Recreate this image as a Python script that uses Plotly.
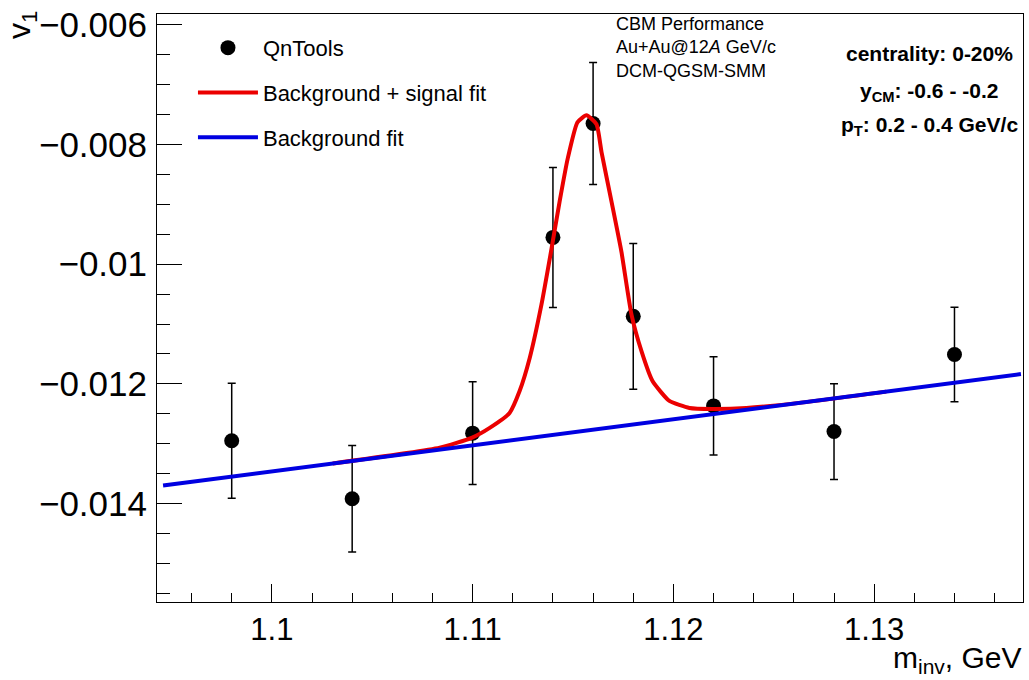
import plotly.graph_objects as go

# Lambda candidates: directed flow v1 versus invariant mass
mass = [1.098, 1.104, 1.110, 1.114, 1.116, 1.118, 1.122, 1.128, 1.134]
v1 = [-0.012952, -0.013922, -0.012824, -0.009552, -0.007647,
      -0.010872, -0.012369, -0.012797, -0.011509]
v1_err = [0.00096, 0.00089, 0.00086, 0.00117, 0.00102,
          0.00122, 0.00082, 0.00080, 0.00079]

# Background + signal fit curve (sampled)
fit_mass = [1.10303, 1.10836, 1.10995, 1.11085, 1.11184, 1.11234, 1.11284,
            1.11343, 1.11393, 1.11433, 1.11473, 1.11522, 1.11567, 1.11617,
            1.11642, 1.11692, 1.11741, 1.11791, 1.11841, 1.11896, 1.11980,
            1.12080, 1.12194, 1.12363, 1.12627, 1.13060]
fit_v1 = [-0.013330, -0.013068, -0.012902, -0.012735, -0.012486, -0.012120,
          -0.011571, -0.010672, -0.009740, -0.008958, -0.008243, -0.007627,
          -0.007511, -0.007661, -0.008126, -0.008958, -0.009790, -0.010839,
          -0.011454, -0.011953, -0.012286, -0.012403, -0.012419, -0.012403,
          -0.012318, -0.012130]

# Linear background fit
bg_mass = [1.09458, 1.13731]
bg_v1 = [-0.013700, -0.011837]

x_tickvals = [1.10, 1.11, 1.12, 1.13]
x_ticktext = ["1.1", "1.11", "1.12", "1.13"]
y_tickvals = [-0.006, -0.008, -0.010, -0.012, -0.014]
y_ticktext = ["\u22120.006", "\u22120.008", "\u22120.01", "\u22120.012", "\u22120.014"]

FONT = "Liberation Sans, Arial, Helvetica, sans-serif"
RED = "rgb(235,0,0)"
BLUE = "rgb(0,0,225)"

fig = go.Figure()

fig.add_trace(go.Scatter(
    x=mass, y=v1, mode="markers", name="QnTools",
    marker=dict(symbol="circle", size=15, color="black"),
    error_y=dict(type="data", array=v1_err, visible=True,
                 color="black", thickness=1.5, width=4),
    legend="legend",
))
fig.add_trace(go.Scatter(
    x=fit_mass, y=fit_v1, mode="lines", name="Background + signal fit",
    line=dict(color=RED, width=4, shape="spline", smoothing=0.5),
    legend="legend2",
))
fig.add_trace(go.Scatter(
    x=bg_mass, y=bg_v1, mode="lines", name="Background fit",
    line=dict(color=BLUE, width=4),
    legend="legend3",
))

W, H = 1029, 680
L, R, T, B = 157, 1024, 11, 602


def px(xp):
    return (xp - L) / (R - L)


def py(yp):
    return (B - yp) / (B - T)


legend_style = dict(font=dict(family=FONT, size=22, color="black"),
                    bgcolor="rgba(0,0,0,0)", borderwidth=0,
                    xanchor="left", yanchor="middle", itemwidth=60)

fig.update_layout(
    width=W, height=H,
    margin=dict(l=L, r=W - R, t=T, b=H - B),
    paper_bgcolor="white", plot_bgcolor="white",
    font=dict(family=FONT, color="black"),
    showlegend=True,
    legend=dict(x=px(193), y=py(45), **legend_style),
    legend2=dict(x=px(193), y=py(90), **legend_style),
    legend3=dict(x=px(193), y=py(135), **legend_style),
    xaxis=dict(
        range=[1.094279, 1.137413],
        tickmode="array", tickvals=x_tickvals, ticktext=x_ticktext,
        ticks="inside", ticklen=18, tickwidth=1, tickcolor="black",
        minor=dict(ticks="inside", ticklen=9, tickwidth=1, tickcolor="black",
                   tickmode="linear", tick0=1.1, dtick=0.002),
        showgrid=False, zeroline=False,
        showline=True, linecolor="black", linewidth=1, mirror=True,
        tickfont=dict(family=FONT, size=31, color="black"),
    ),
    yaxis=dict(
        range=[-0.015647, -0.005817],
        tickmode="array", tickvals=y_tickvals, ticktext=y_ticktext,
        ticks="inside", ticklen=25, tickwidth=1, tickcolor="black",
        minor=dict(ticks="inside", ticklen=13, tickwidth=1, tickcolor="black",
                   tickmode="linear", tick0=-0.006, dtick=0.0005),
        showgrid=False, zeroline=False,
        showline=True, linecolor="black", linewidth=1, mirror=True,
        tickfont=dict(family=FONT, size=35, color="black"),
        ticklabelstandoff=2,
    ),
)

annotations = [
    dict(text="v<sub>1</sub>", x=px(22), y=py(22), textangle=-90,
         font=dict(size=32), xanchor="center", yanchor="middle"),
    dict(text="m<sub>inv</sub>, GeV", x=px(1024), y=py(679),
         font=dict(size=30), xanchor="right", yanchor="bottom", borderpad=0),
    dict(text="CBM Performance<br>Au+Au@12<i>A</i> GeV/c<br>DCM-QGSM-SMM",
         x=px(615), y=py(9), font=dict(size=18), align="left",
         xanchor="left", yanchor="top"),
    dict(text="<b>centrality: 0-20%</b>", x=px(930), y=py(51),
         font=dict(size=21), xanchor="center", yanchor="middle"),
    dict(text="<b>y<sub>CM</sub>: -0.6 - -0.2</b>", x=px(930), y=py(89),
         font=dict(size=21), xanchor="center", yanchor="middle"),
    dict(text="<b>p<sub>T</sub>: 0.2 - 0.4 GeV/c</b>", x=px(930), y=py(124),
         font=dict(size=21), xanchor="center", yanchor="middle"),
]
for a in annotations:
    a.update(xref="paper", yref="paper", showarrow=False)
    a["font"].update(family=FONT, color="black")
fig.update_layout(annotations=annotations)

fig.write_html("out.html")
